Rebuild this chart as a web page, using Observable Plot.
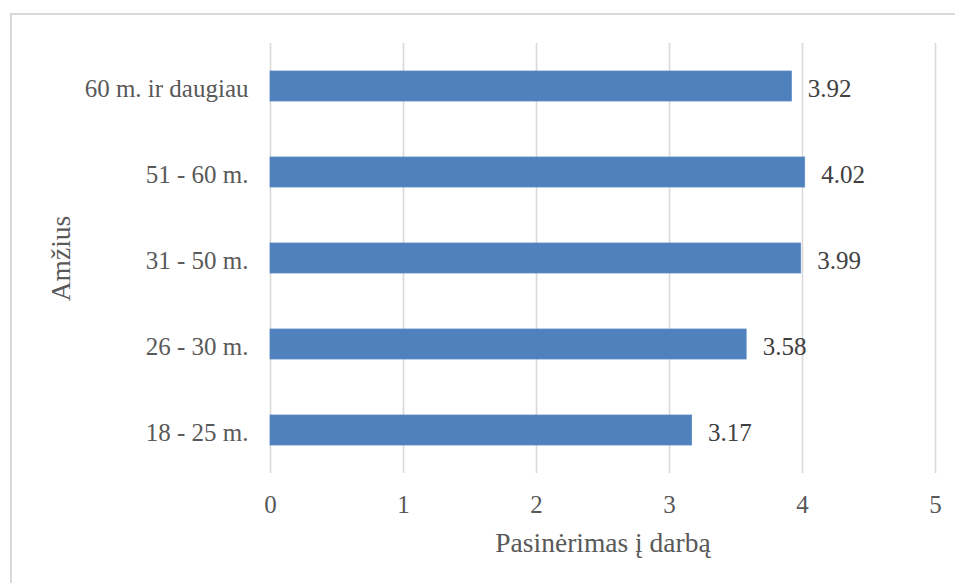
<!DOCTYPE html>
<html>
<head>
<meta charset="utf-8">
<script src="https://cdn.jsdelivr.net/npm/d3@7"></script>
<script src="https://cdn.jsdelivr.net/npm/@observablehq/plot@0.6"></script>
<style>
  html, body { margin: 0; padding: 0; background: #fff; overflow: hidden; }
  #wrap { position: relative; width: 955px; height: 583px; overflow: hidden; }
  #frame { position: absolute; left: 10px; top: 13px; width: 960px; height: 600px;
           border: 2px solid #d9d9d9; box-sizing: border-box; pointer-events: none; }
  #chart { position: absolute; left: 0; top: 0; }
</style>
</head>
<body>
<div id="wrap"><div id="chart"></div><div id="frame"></div></div>
<script>
// Age groups (bottom to top) and average work engagement score
const categories = ["18 - 25 m.", "26 - 30 m.", "31 - 50 m.", "51 - 60 m.", "60 m. ir daugiau"];
const values = [3.17, 3.58, 3.99, 4.02, 3.92];
const xTicks = [0, 1, 2, 3, 4, 5];
const xTitle = "Pasinėrimas į darbą";
const yTitle = "Amžius";

const data = categories.map((c, i) => ({category: c, value: values[i]}));

const chart = Plot.plot({
  width: 955,
  height: 583,
  marginLeft: 270,
  marginRight: 20,
  marginTop: 43,
  marginBottom: 110,
  style: {fontFamily: "'Liberation Serif', serif", fontSize: "25px", color: "#595959", background: "transparent"},
  x: {domain: [0, 5], label: null},
  y: {domain: categories.slice().reverse(), paddingInner: 0.65, paddingOuter: 0.325, label: null},
  marks: [
    Plot.gridX(xTicks, {stroke: "#d9d9d9", strokeOpacity: 1, strokeWidth: 1.6}),
    Plot.barX(data, {x: "value", y: "category", fill: "#4f81bd", stroke: "#5a8ac6", strokeWidth: 0.8}),
    Plot.text(data, {x: "value", y: "category", text: d => d.value.toFixed(2),
      textAnchor: "start", dx: 16, dy: 2, fill: "#404040", fontSize: 25}),
    Plot.axisX({ticks: xTicks, tickFormat: d3.format("d"), tickSize: 0, tickPadding: 22, label: null, fontSize: 25, fill: "#595959"}),
    Plot.axisY({tickSize: 0, tickPadding: 22, label: null, fontSize: 25, dy: 2, fill: "#595959"}),
    Plot.text([xTitle], {frameAnchor: "bottom", dy: 78, fontSize: 27.5, fill: "#595959"}),
    Plot.text([yTitle], {frameAnchor: "left", textAnchor: "middle", dx: -209, rotate: -90, fontSize: 27.5, fill: "#595959"})
  ]
});

document.getElementById("chart").append(chart);
</script>
</body>
</html>
